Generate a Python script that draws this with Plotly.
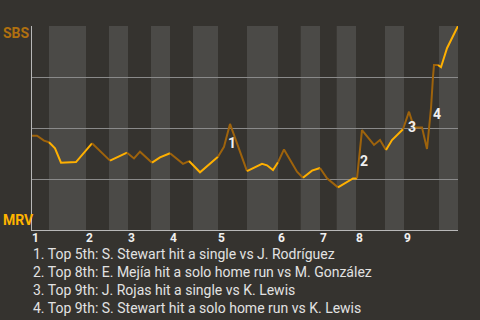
import plotly.graph_objects as go

# game progress (horizontal units) and SBS win probability (%)
progress = [0, 5, 12, 17, 23, 29, 44, 60, 78, 95, 102, 108, 120, 128, 138, 151, 157, 168,
            186, 192, 198, 202, 215, 230, 235, 241, 246, 252, 265, 271, 280, 288, 295, 306,
            321, 325, 330, 342, 348, 354, 360, 371, 377, 382, 390, 395, 399, 401, 402, 406,
            409, 415, 426]
sbs_wp = [46.2, 46.2, 43.8, 43.0, 40.0, 33.0, 33.3, 42.5, 34.0, 37.9, 35.1, 38.4, 33.0, 35.6,
          37.6, 32.4, 33.8, 28.3, 35.9, 40.8, 52.0, 46.6, 28.9, 32.4, 31.7, 29.4, 33.2, 39.5,
          28.6, 25.6, 29.1, 30.4, 25.3, 20.9, 25.3, 25.3, 49.0, 41.7, 44.1, 39.2, 44.1, 49.4,
          58.0, 50.3, 50.3, 39.7, 59.7, 75.1, 80.9, 80.9, 79.8, 89.1, 100.0]

# half-inning boundaries (top, bottom alternating)
half_bounds = [0, 17, 54, 77, 96, 119, 138, 161, 186, 215, 246, 268.7, 288, 304.7, 324, 353,
               372, 407, 426]
innings = ["1", "2", "3", "4", "5", "6", "7", "8", "9"]

event_x = [200, 332, 380, 405]
event_y = [42.6, 33.8, 50.6, 56.9]
event_labels = ["1", "2", "3", "4"]
event_texts = [
    "1. Top 5th: S. Stewart hit a single vs J. Rodríguez",
    "2. Top 8th: E. Mejía hit a solo home run vs M. González",
    "3. Top 9th: J. Rojas hit a single vs K. Lewis",
    "4. Top 9th: S. Stewart hit a solo home run vs K. Lewis",
]
teams = ["SBS", "MRV"]

BG = "#35332f"
BAND = "#4b4a47"
DARK = "#9e630c"
BRIGHT = "#ffb000"

fig = go.Figure()

# bands
shapes = []
for i in range(len(half_bounds) - 1):
    if i % 2 == 1:
        shapes.append(dict(type="rect", xref="x", yref="paper", x0=half_bounds[i],
                           x1=half_bounds[i + 1], y0=0, y1=1, fillcolor=BAND,
                           line=dict(width=0), layer="below"))


def half_index(x):
    for i in range(len(half_bounds) - 1):
        if half_bounds[i] <= x < half_bounds[i + 1]:
            return i
    return len(half_bounds) - 2


# group segments by color
segs = []
for i in range(len(progress) - 1):
    mid = (progress[i] + progress[i + 1]) / 2
    col = DARK if half_index(mid) % 2 == 0 else BRIGHT
    if segs and segs[-1][0] == col:
        segs[-1][1].append(i + 1)
    else:
        segs.append([col, [i, i + 1]])

for col, idx in segs:
    fig.add_trace(go.Scatter(x=[progress[k] for k in idx], y=[sbs_wp[k] for k in idx],
                             mode="lines", line=dict(color=col, width=2),
                             hoverinfo="skip", showlegend=False))

ann = []
for i, lab in enumerate(innings):
    ann.append(dict(x=half_bounds[2 * i], y=0, xref="x", yref="paper", text=f"<b>{lab}</b>",
                    showarrow=False, xanchor="left", yanchor="top", xshift=-1, yshift=0,
                    borderpad=0,
                    font=dict(size=12, color="#f0f0f0", family="Roboto")))
for x, y, t in zip(event_x, event_y, event_labels):
    ann.append(dict(x=x, y=y, xref="x", yref="y", text=f"<b>{t}</b>", showarrow=False,
                    font=dict(size=14, color="#f0f0f0", family="Roboto")))
for k, t in enumerate(event_texts):
    ypx = 254 + 18 * k
    ann.append(dict(x=0, y=(230 - ypx) / 204, xref="paper", yref="paper", text=t,
                    showarrow=False, xanchor="left", yanchor="middle", borderpad=0,
                    font=dict(size=14, color="#e2e2e2", family="Roboto")))
ann.append(dict(x=-0.073, y=(230 - 33) / 204, xref="paper", yref="paper", text=f"<b>{teams[0]}</b>",
                showarrow=False, xanchor="left", yanchor="middle",
                font=dict(size=14, color="#b0700f", family="Roboto")))
ann.append(dict(x=-0.073, y=(230 - 220) / 204, xref="paper", yref="paper", text=f"<b>{teams[1]}</b>",
                showarrow=False, xanchor="left", yanchor="middle",
                font=dict(size=14, color="#ffb300", family="Roboto")))

fig.update_layout(
    width=480, height=320,
    margin=dict(l=32, r=22, t=26, b=90),
    paper_bgcolor=BG, plot_bgcolor=BG,
    shapes=shapes, annotations=ann,
    xaxis=dict(range=[0, 426], showgrid=False, zeroline=False, showticklabels=False,
               showline=True, linecolor="#b8b8b8", linewidth=1, fixedrange=True),
    yaxis=dict(range=[0, 100], tickvals=[25, 50, 75, 100], showgrid=True,
               gridcolor="#8a8a8a", gridwidth=1, zeroline=False, showticklabels=False,
               showline=True, linecolor="#b8b8b8", linewidth=1, fixedrange=True),
    showlegend=False,
)

fig.write_html("out.html")
